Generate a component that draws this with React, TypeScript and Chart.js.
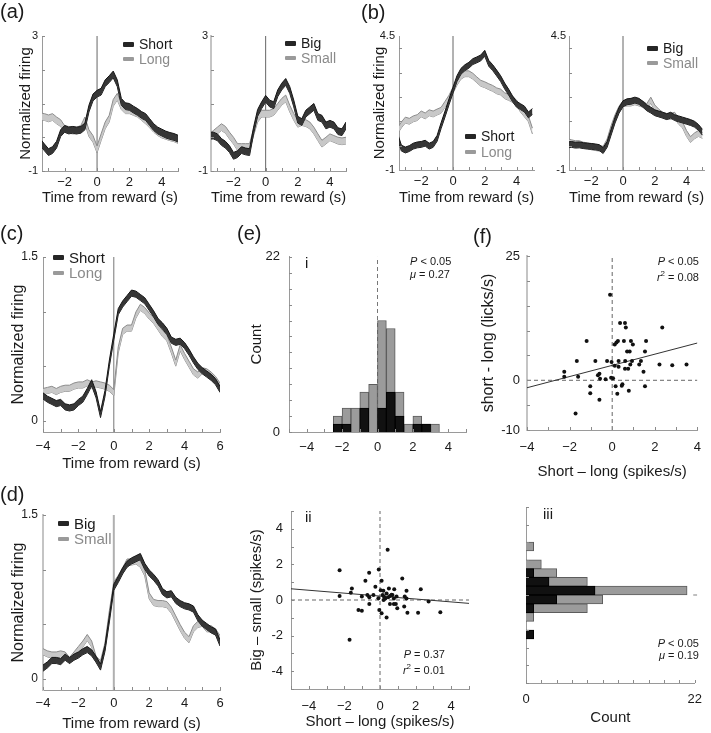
import React, { useEffect, useRef } from 'react';
import { Chart, registerables } from 'chart.js';

Chart.register(...registerables);

const FONT = '"Liberation Sans", Arial, Helvetica, sans-serif';
const MINUS = '\u2212';

// ---------------- data ----------------
const T_AB = [-3.5, -3.25, -3, -2.75, -2.5, -2.25, -2, -1.75, -1.5, -1.25, -1, -0.75, -0.5, -0.25, 0, 0.25, 0.5, 0.75, 1, 1.25, 1.5, 1.75, 2, 2.25, 2.5, 2.75, 3, 3.25, 3.5, 3.75, 4, 4.25, 4.5, 4.75, 5];
const T_CD = [-4, -3.75, -3.5, -3.25, -3, -2.75, -2.5, -2.25, -2, -1.75, -1.5, -1.25, -1, -0.75, -0.5, -0.25, 0, 0.25, 0.5, 0.75, 1, 1.25, 1.5, 1.75, 2, 2.25, 2.5, 2.75, 3, 3.25, 3.5, 3.75, 4, 4.25, 4.5, 4.75, 5, 5.25, 5.5, 5.75, 6];

const A_SHORT = [-0.15, -0.3, -0.44, -0.38, -0.22, 0.12, 0.25, 0.2, 0.22, 0.2, 0.22, 0.32, 0.85, 1.18, 1.29, 1.35, 1.6, 1.72, 1.86, 1.6, 1.05, 0.92, 0.9, 0.82, 0.75, 0.66, 0.6, 0.45, 0.3, 0.2, 0.14, 0.08, 0.04, 0.01, -0.04];
const A_LONG = [0.62, 0.6, 0.56, 0.6, 0.5, 0.42, 0.24, 0.22, 0.2, 0.2, 0.25, 0.5, 0.12, -0.05, -0.36, 0.0, 0.35, 0.55, 1.02, 1.2, 0.92, 0.8, 0.8, 0.75, 0.7, 0.6, 0.5, 0.38, 0.25, 0.15, 0.08, 0.04, 0.0, -0.03, -0.08];
const A_BIG = [0.05, 0.05, 0.0, -0.14, -0.22, -0.35, -0.55, -0.5, -0.38, -0.42, -0.44, 0.2, 0.72, 0.95, 1.14, 1.0, 0.95, 1.3, 1.5, 1.64, 1.4, 1.0, 0.52, 0.45, 0.7, 0.8, 0.9, 0.6, 0.55, 0.35, 0.4, 0.35, 0.18, 0.15, 0.35];
const A_SMALL = [0.0, 0.1, 0.2, 0.3, 0.22, 0.05, -0.1, -0.29, -0.29, -0.29, -0.29, 0.15, 0.55, 0.7, 0.7, 0.7, 0.75, 0.9, 1.05, 1.15, 0.85, 0.6, 0.4, 0.45, 0.42, 0.35, 0.2, 0.0, -0.19, -0.1, 0.0, -0.05, -0.1, -0.12, -0.1];

const B_SHORT = [0.4, -0.1, -0.18, -0.12, -0.02, 0.03, 0.05, 0.1, -0.02, 0.05, 0.3, 0.82, 1.3, 1.8, 2.28, 2.75, 3.05, 3.2, 3.3, 3.45, 3.52, 3.6, 3.79, 3.38, 3.2, 2.98, 2.75, 2.45, 2.2, 1.92, 1.7, 1.6, 1.5, 1.26, 1.4];
const B_LONG = [0.6, 0.85, 1.05, 1.0, 1.1, 1.15, 1.3, 1.22, 1.35, 1.3, 1.38, 1.45, 1.7, 1.95, 2.28, 2.6, 2.85, 2.95, 2.95, 2.85, 2.7, 2.56, 2.5, 2.42, 2.35, 2.25, 2.2, 2.05, 1.98, 1.9, 1.75, 1.5, 1.3, 1.1, 0.6];
const B_BIG = [0.03, 0.05, 0.02, 0.03, 0.0, -0.02, -0.03, -0.05, -0.08, -0.2, 0.05, 0.55, 1.05, 1.45, 1.72, 1.8, 1.82, 1.87, 1.82, 1.7, 1.55, 1.46, 1.35, 1.3, 1.25, 1.19, 1.25, 1.15, 1.1, 1.05, 1.0, 0.95, 0.88, 0.75, 0.55];
const B_SMALL = [0.16, 0.12, 0.08, 0.08, 0.02, 0.0, -0.05, -0.08, -0.1, -0.15, 0.15, 0.7, 1.15, 1.5, 1.72, 1.75, 1.75, 1.8, 1.75, 1.7, 1.6, 1.87, 1.55, 1.38, 1.25, 1.2, 1.2, 1.25, 1.0, 0.85, 0.5, 0.25, 0.4, 0.5, 0.42];

const C_SHORT = [0.23, 0.2, 0.18, 0.16, 0.17, 0.13, 0.12, 0.13, 0.17, 0.2, 0.27, 0.35, 0.24, 0.06, 0.25, 0.53, 0.77, 1.0, 1.07, 1.12, 1.17, 1.16, 1.13, 1.1, 1.04, 0.98, 0.91, 0.87, 0.82, 0.74, 0.72, 0.73, 0.69, 0.63, 0.56, 0.5, 0.46, 0.43, 0.4, 0.36, 0.29];
const C_LONG = [0.27, 0.28, 0.29, 0.27, 0.29, 0.3, 0.3, 0.32, 0.33, 0.33, 0.35, 0.33, 0.34, 0.33, 0.32, 0.3, 0.26, 0.65, 0.82, 0.85, 0.85, 0.97, 1.04, 1.01, 0.96, 0.92, 0.86, 0.8, 0.76, 0.65, 0.53, 0.67, 0.59, 0.52, 0.45, 0.42, 0.46, 0.45, 0.42, 0.38, 0.32];
const D_BIG = [0.1, 0.13, 0.17, 0.17, 0.16, 0.2, 0.17, 0.2, 0.22, 0.25, 0.27, 0.24, 0.18, 0.11, 0.28, 0.55, 0.84, 0.91, 0.99, 1.05, 1.08, 1.1, 1.12, 1.03, 0.97, 0.93, 0.88, 0.8, 0.77, 0.78, 0.72, 0.69, 0.67, 0.66, 0.64, 0.56, 0.51, 0.48, 0.45, 0.43, 0.33];
const D_SMALL = [0.25, 0.23, 0.22, 0.22, 0.23, 0.22, 0.17, 0.22, 0.27, 0.32, 0.38, 0.32, 0.18, 0.14, 0.3, 0.6, 0.86, 0.92, 0.99, 1.07, 1.07, 1.08, 1.05, 0.97, 0.76, 0.7, 0.69, 0.69, 0.68, 0.63, 0.55, 0.47, 0.4, 0.36, 0.46, 0.5, 0.51, 0.46, 0.46, 0.43, 0.37];

const SEM_A = 0.1;
const SEM_B = 0.12;
const SEM_C = 0.028;
const SEM_D = 0.028;

// histogram (e) i
const E_BINS = [-2.25, -1.75, -1.25, -0.75, -0.25, 0.25, 0.75, 1.25, 1.75, 2.25, 2.75, 3.25];
const E_ALL = [2, 3, 3, 5, 6, 14, 13, 5, 1, 2, 1, 1];
const E_SIG = [1, 1, 0, 3, 0, 3, 5, 2, 0, 1, 1, 0];

// histogram (e) iii (horizontal)
const H_BINS = [2.75, 2.25, 1.75, 1.25, 0.75, 0.25, -0.25, -0.75, -1.25, -1.75, -2.25];
const H_ALL = [1, 0, 2, 4, 8, 21, 10, 8, 1, 0, 1];
const H_SIG = [0, 0, 0, 1, 3, 9, 4, 1, 0, 0, 1];
const H_MARK = 0.0;

// scatter (f)
const F_X = [-0.1, 0.37, 0.6, 0.64, 2.35, -1.2, 0.12, 0.2, 0.27, 0.55, 0.88, 0.97, 1.59, 0.7, 0.82, 1.54, -1.66, -0.79, -0.24, -0.03, 0.3, 0.61, 0.93, 1.35, 0.12, 0.3, 0.6, 0.75, 0.85, 1.27, 2.22, 2.82, 3.49, 1.47, -2.25, -2.25, -1.6, -0.67, -0.6, -0.57, -0.31, -0.05, 0.04, -1.03, -1.03, -0.6, 0.16, 0.45, 0.48, 0.24, 0.78, 1.54, -1.72];
const F_Y = [17.2, 11.5, 11.5, 10.6, 10.6, 7.9, 7.2, 7.6, 7.9, 7.9, 7.9, 7.2, 7.9, 5.8, 5.8, 5.8, 3.9, 3.9, 3.9, 3.7, 3.9, 3.9, 3.9, 3.9, 2.9, 2.7, 2.3, 2.3, 3.2, 3.2, 3.2, 3.0, 3.2, 1.7, 1.7, 0.7, 0.7, 1.0, 1.3, 0.3, 0.2, 0.5, 0.4, -1.2, -2.6, -3.9, -1.2, -1.1, -0.8, -2.7, -2.1, -1.2, -6.7];
const F_FIT = { slope: 1.125, intercept: 3.0 };

// scatter (e) ii
const S_X = [0.43, -2.27, -0.07, -0.61, 1.25, -0.82, 0.09, -0.26, -1.58, 0.5, 0.8, 2.29, 0.04, 0.19, 1.49, -1.64, -0.71, -0.37, -2.27, -1.02, -0.6, -0.09, 0.15, 0.22, 0.3, 0.37, 0.46, 0.56, 0.7, 0.78, 0.93, 1.39, 1.49, 1.36, -0.04, 0.09, 0.37, -1.21, -1.02, -0.6, 0.56, 0.78, 0.89, 0.97, 1.54, 2.14, 2.73, 3.39, -1.71, 0.2, 0.65];
const S_Y = [2.83, 1.67, 1.71, 1.53, 1.21, 1.08, 1.08, 0.74, 0.65, 0.65, 0.61, 0.6, 0.55, 0.52, 0.52, 0.41, 0.28, 0.28, 0.22, 0.19, 0.15, 0.1, 0.28, 0.19, 0.09, 0.37, 0.15, 0.22, 0.28, 0.09, 0.19, 0.19, 0.09, -0.37, -0.56, -0.74, -0.99, -0.56, -0.6, -0.22, -0.22, -0.22, -0.22, -0.47, -0.71, -0.71, -0.09, -0.69, -2.23, 0.0, 0.3];
const S_FIT = { slope: -0.082, intercept: 0.22 };

// tick values
const AB_X_LABELS = [-2, 0, 2, 4];
const AB_X_MINOR = [-3, -2, -1, 0, 1, 2, 3, 4, 5];
const A_Y_LABELS = [-1, 3];
const A_Y_MINOR = [-1, 0, 1, 2, 3];
const B_Y_LABELS = [-1, 4.5];
const B_Y_MINOR = [0, 1, 2, 3, 4];
const CD_X_LABELS = [-4, -2, 0, 2, 4, 6];
const CD_X_MINOR = [-4, -3, -2, -1, 0, 1, 2, 3, 4, 5, 6];
const CD_Y_LABELS = [0, 1.5];
const CD_Y_MINOR = [0, 0.5, 1, 1.5];
const E_X_LABELS = [-4, -2, 0, 2, 4];
const E_X_MINOR = [-5, -4, -3, -2, -1, 0, 1, 2, 3, 4, 5];
const E_Y_LABELS = [0, 22];
const E_Y_MINOR = [0, 2, 4, 6, 8, 10, 12, 14, 16, 18, 20, 22];
const F_X_LABELS = [-4, -2, 0, 2, 4];
const F_X_MINOR = [-4, -3, -2, -1, 0, 1, 2, 3, 4];
const F_Y_LABELS = [-10, 0, 25];
const F_Y_MINOR = [-10, -5, 0, 5, 10, 15, 20, 25];
const S_X_LABELS = [-4, -2, 0, 2, 4];
const S_MINOR = [-5, -4, -3, -2, -1, 0, 1, 2, 3, 4, 5];
const S_Y_LABELS = [-4, -2, 0, 2, 4];
const H_X_LABELS = [0, 22];
const H_X_MINOR = [0, 2, 4, 6, 8, 10, 12, 14, 16, 18, 20, 22];

// ---------------- helpers ----------------
const fmtM = (v: number) => (v < 0 ? MINUS + String(Math.abs(v)) : String(v));
const fmtH = (v: number) => String(v);

function band(T: number[], c: number[], sem: number, dark: boolean) {
  const edge = dark ? '#141414' : '#8c8c8c';
  const fillC = dark ? '#363636' : '#c8c8c8';
  const common: any = { type: 'line', pointRadius: 0, borderWidth: 1, borderColor: edge, tension: 0 };
  return [
    { ...common, data: T.map((t, i) => ({ x: t, y: c[i] + sem })), backgroundColor: fillC, fill: '+1' },
    { ...common, data: T.map((t, i) => ({ x: t, y: c[i] - sem })), backgroundColor: fillC, fill: false },
  ];
}

function seg(x0: number, y0: number, x1: number, y1: number, color: string, width: number, dash?: number[], extra?: any) {
  return {
    type: 'line', data: [{ x: x0, y: y0 }, { x: x1, y: y1 }], borderColor: color, borderWidth: width,
    borderDash: dash || [], pointRadius: 0, fill: false, showLine: true, tension: 0, ...(extra || {}),
  };
}

function fitLine(fit: { slope: number; intercept: number }, x0: number, x1: number) {
  return seg(x0, fit.intercept + fit.slope * x0, x1, fit.intercept + fit.slope * x1, '#333', 1);
}

function buildAxis(a: any, horizontal: boolean, fit: number) {
  return {
    type: 'linear', min: a.min, max: a.max, offset: false,
    grid: { display: false, drawTicks: false },
    border: { display: true, color: a.borderColor || '#9a9a9a', width: a.borderWidth || 1 },
    afterBuildTicks: (s: any) => { s.ticks = (a.labels || []).map((v: number) => ({ value: v })); },
    afterFit: (s: any) => { if (horizontal) s.height = fit; else s.width = fit; },
    ticks: {
      display: (a.labels || []).length > 0, autoSkip: false, maxRotation: 0, minRotation: 0,
      padding: a.pad, color: '#1a1a1a', font: { family: FONT, size: a.size },
      callback: (v: any) => (a.fmt || fmtH)(Number(v)),
    },
    title: a.title
      ? { display: true, text: a.title, color: '#1a1a1a', font: { family: FONT, size: a.titleSize || 15 }, padding: a.titlePad || 0 }
      : { display: false },
  };
}

function tickPlugin(xMinor: number[], yMinor: number[]) {
  return {
    id: 'inwardTicks',
    afterDraw(chart: any) {
      const { ctx, chartArea, scales } = chart;
      ctx.save();
      ctx.strokeStyle = '#8a8a8a';
      ctx.lineWidth = 1;
      ctx.beginPath();
      xMinor.forEach((v) => {
        const p = Math.round(scales.x.getPixelForValue(v)) + 0.5;
        ctx.moveTo(p, chartArea.bottom);
        ctx.lineTo(p, chartArea.bottom - 3);
      });
      yMinor.forEach((v) => {
        const p = Math.round(scales.y.getPixelForValue(v)) + 0.5;
        ctx.moveTo(chartArea.left, p);
        ctx.lineTo(chartArea.left + 3, p);
      });
      ctx.stroke();
      ctx.restore();
    },
  };
}

function buildConfig(p: any) {
  const { rect, plot } = p;
  const xFit = rect.y + rect.h - plot.b;
  const yFit = plot.l - rect.x;
  return {
    type: p.type,
    data: { datasets: p.datasets() },
    options: {
      responsive: false, animation: false, events: [],
      indexAxis: p.indexAxis || 'x',
      layout: { padding: { top: plot.t - rect.y, right: rect.x + rect.w - plot.r, left: 0, bottom: 0 } },
      plugins: { legend: { display: false }, tooltip: { enabled: false } },
      scales: { x: buildAxis(p.x, true, xFit), y: buildAxis(p.y, false, yFit) },
    },
    plugins: [tickPlugin(p.x.minor, p.y.minor)],
  };
}

function Panel({ spec }: { spec: any }) {
  const ref = useRef<HTMLCanvasElement>(null);
  useEffect(() => {
    let chart: any = null;
    try {
      if (ref.current) chart = new Chart(ref.current, buildConfig(spec) as any);
    } catch (e) {
      console.error(e);
    }
    return () => { if (chart) chart.destroy(); };
  }, []);
  const { rect } = spec;
  return (
    <canvas ref={ref} width={rect.w} height={rect.h}
      style={{ position: 'absolute', left: rect.x, top: rect.y, width: rect.w, height: rect.h }} />
  );
}

function Txt({ x, cy, size, children, align = 'left', color = '#1a1a1a', k = 0.5 }: any) {
  const tr = align === 'right' ? 'translateX(-100%)' : align === 'center' ? 'translateX(-50%)' : undefined;
  return (
    <div style={{ position: 'absolute', left: x, top: cy - k * size, fontSize: size, lineHeight: `${size}px`,
      fontFamily: FONT, color, whiteSpace: 'nowrap', transform: tr }}>{children}</div>
  );
}

function Leg({ x, cy, label, dark, size }: any) {
  return (
    <>
      <div style={{ position: 'absolute', left: x, top: cy - (dark ? 2.5 : 2), width: 11, height: dark ? 5 : 4,
        background: dark ? '#262626' : '#9a9a9a', borderRadius: 1 }} />
      <Txt x={x + 16} cy={cy} size={size} color={dark ? '#1a1a1a' : '#8a8a8a'}>{label}</Txt>
    </>
  );
}

// ---------------- panel specs ----------------
const xTime = { labels: AB_X_LABELS, minor: AB_X_MINOR, fmt: fmtM, size: 13, pad: 4 };

const PANELS: any[] = [
  {
    rect: { x: 0, y: 20, w: 192, h: 190 }, plot: { l: 42, t: 36, r: 178, b: 171 }, type: 'line',
    datasets: () => [...band(T_AB, A_SHORT, SEM_A, true), ...band(T_AB, A_LONG, SEM_A, false), seg(0, -1, 0, 3, '#666', 1)],
    x: { ...xTime, min: -3.4, max: 5, title: 'Time from reward (s)', titleSize: 15, titlePad: { top: 0, bottom: 3 } },
    y: { min: -1, max: 3, labels: A_Y_LABELS, minor: A_Y_MINOR, fmt: fmtH, size: 11, pad: 4,
      title: 'Normalized firing', titleSize: 15, titlePad: { top: 17, bottom: 0 } },
  },
  {
    rect: { x: 192, y: 20, w: 166, h: 190 }, plot: { l: 211, t: 36, r: 346, b: 171 }, type: 'line',
    datasets: () => [...band(T_AB, A_BIG, SEM_A, true), ...band(T_AB, A_SMALL, SEM_A, false), seg(0, -1, 0, 3, '#666', 1)],
    x: { ...xTime, min: -3.4, max: 5, title: 'Time from reward (s)', titleSize: 15, titlePad: { top: 0, bottom: 3 } },
    y: { min: -1, max: 3, labels: A_Y_LABELS, minor: A_Y_MINOR, fmt: fmtH, size: 11, pad: 3, borderColor: '#c4c4c4', borderWidth: 2 },
  },
  {
    rect: { x: 350, y: 20, w: 196, h: 190 }, plot: { l: 399, t: 36, r: 534, b: 170 }, type: 'line',
    datasets: () => [...band(T_AB, B_SHORT, SEM_B, true), ...band(T_AB, B_LONG, SEM_B, false), seg(0, -1, 0, 4.5, '#666', 1)],
    x: { ...xTime, min: -3.4, max: 5.1, title: 'Time from reward (s)', titleSize: 15, titlePad: { top: 0, bottom: 3.5 } },
    y: { min: -1, max: 4.5, labels: B_Y_LABELS, minor: B_Y_MINOR, fmt: fmtH, size: 11, pad: 4,
      title: 'Normalized firing', titleSize: 15, titlePad: { top: 21, bottom: 0 } },
  },
  {
    rect: { x: 546, y: 20, w: 165, h: 190 }, plot: { l: 569, t: 36, r: 704, b: 170 }, type: 'line',
    datasets: () => [...band(T_AB, B_BIG, SEM_B, true), ...band(T_AB, B_SMALL, SEM_B, false), seg(0, -1, 0, 4.5, '#666', 1)],
    x: { ...xTime, min: -3.4, max: 5.1, title: 'Time from reward (s)', titleSize: 15, titlePad: { top: 0, bottom: 3.5 } },
    y: { min: -1, max: 4.5, labels: B_Y_LABELS, minor: B_Y_MINOR, fmt: fmtH, size: 11, pad: 3 },
  },
  {
    rect: { x: 0, y: 240, w: 232, h: 236 }, plot: { l: 43, t: 257, r: 220, b: 432 }, type: 'line',
    datasets: () => [...band(T_CD, C_SHORT, SEM_C, true), ...band(T_CD, C_LONG, SEM_C, false), seg(0, -0.1, 0, 1.5, '#777', 1)],
    x: { min: -4, max: 6, labels: CD_X_LABELS, minor: CD_X_MINOR, fmt: fmtM, size: 13, pad: 7,
      title: 'Time from reward (s)', titleSize: 15, titlePad: { top: 0, bottom: 3.5 } },
    y: { min: -0.1, max: 1.5, labels: CD_Y_LABELS, minor: CD_Y_MINOR, fmt: fmtH, size: 12, pad: 5,
      title: 'Normalized firing', titleSize: 16, titlePad: { top: 9.4, bottom: 0 } },
  },
  {
    rect: { x: 0, y: 498, w: 232, h: 235 }, plot: { l: 43, t: 515, r: 220, b: 690 }, type: 'line',
    datasets: () => [...band(T_CD, D_BIG, SEM_D, true), ...band(T_CD, D_SMALL, SEM_D, false), seg(0, -0.1, 0, 1.5, '#b0b0b0', 2)],
    x: { min: -4, max: 6, labels: CD_X_LABELS, minor: CD_X_MINOR, fmt: fmtM, size: 13, pad: 6,
      title: 'Time from reward (s)', titleSize: 15, titlePad: { top: 0, bottom: 0.5 } },
    y: { min: -0.1, max: 1.5, labels: CD_Y_LABELS, minor: CD_Y_MINOR, fmt: fmtH, size: 12, pad: 5,
      title: 'Normalized firing', titleSize: 16, titlePad: { top: 9, bottom: 0 }, borderColor: '#c4c4c4', borderWidth: 2 },
  },
  {
    rect: { x: 240, y: 240, w: 238, h: 222 }, plot: { l: 289, t: 255, r: 466, b: 432 }, type: 'bar',
    datasets: () => [
      { type: 'bar', data: E_BINS.map((b, i) => ({ x: b, y: E_SIG[i] })), backgroundColor: '#111', borderColor: '#000',
        borderWidth: 1, grouped: false, barPercentage: 1, categoryPercentage: 1, order: 1 },
      { type: 'bar', data: E_BINS.map((b, i) => ({ x: b, y: E_ALL[i] })), backgroundColor: '#9b9b9b', borderColor: '#5c5c5c',
        borderWidth: 1, grouped: false, barPercentage: 1, categoryPercentage: 1, order: 2 },
      { ...seg(0, 0, 0, 22, '#777', 1, [4, 3]), order: 3 },
    ],
    x: { min: -5, max: 5, labels: E_X_LABELS, minor: E_X_MINOR, fmt: fmtM, size: 13, pad: 8 },
    y: { min: 0, max: 22, labels: E_Y_LABELS, minor: E_Y_MINOR, fmt: fmtH, size: 13, pad: 9,
      title: 'Count', titleSize: 15, titlePad: { top: 8, bottom: 0 } },
  },
  {
    rect: { x: 470, y: 240, w: 241, h: 243 }, plot: { l: 527, t: 256, r: 706, b: 430 }, type: 'scatter',
    datasets: () => [
      { type: 'scatter', data: F_X.map((x, i) => ({ x, y: F_Y[i] })), pointRadius: 2, backgroundColor: '#111', borderWidth: 0, showLine: false },
      fitLine(F_FIT, -4, 4),
      seg(0, -10, 0, 25, '#666', 1, [4, 3]),
      seg(-4, 0, 4, 0, '#666', 1, [4, 3]),
    ],
    x: { min: -4, max: 4, labels: F_X_LABELS, minor: F_X_MINOR, fmt: fmtM, size: 13, pad: 10,
      title: 'Short \u2013 long (spikes/s)', titleSize: 15, titlePad: { top: 0, bottom: 2.5 } },
    y: { min: -10, max: 25, labels: F_Y_LABELS, minor: F_Y_MINOR, fmt: fmtH, size: 13, pad: 7,
      title: 'short - long (licks/s)', titleSize: 16, titlePad: { top: 9.4, bottom: 0 }, borderColor: '#c4c4c4', borderWidth: 2 },
  },
  {
    rect: { x: 240, y: 495, w: 240, h: 238 }, plot: { l: 291, t: 511, r: 469, b: 689 }, type: 'scatter',
    datasets: () => [
      { type: 'scatter', data: S_X.map((x, i) => ({ x, y: S_Y[i] })), pointRadius: 2, backgroundColor: '#111', borderWidth: 0, showLine: false },
      fitLine(S_FIT, -5, 5),
      seg(0, -5, 0, 5, '#666', 1, [4, 3]),
      seg(-5, 0, 5, 0, '#666', 1, [4, 3]),
    ],
    x: { min: -5, max: 5, labels: S_X_LABELS, minor: S_MINOR, fmt: fmtM, size: 13, pad: 10,
      title: 'Short \u2013 long (spikes/s)', titleSize: 15, titlePad: { top: 0, bottom: 2 } },
    y: { min: -5, max: 5, labels: S_Y_LABELS, minor: S_MINOR, fmt: fmtH, size: 13, pad: 8,
      title: 'Big \u2013 small (spikes/s)', titleSize: 15, titlePad: { top: 7.5, bottom: 0 } },
  },
  {
    rect: { x: 478, y: 490, w: 233, h: 243 }, plot: { l: 526, t: 507, r: 703, b: 683 }, type: 'bar', indexAxis: 'y',
    datasets: () => [
      { type: 'bar', data: H_BINS.map((b, i) => ({ y: b, x: H_SIG[i] })), backgroundColor: '#111', borderColor: '#000',
        borderWidth: 1, grouped: false, barPercentage: 1, categoryPercentage: 1, order: 1 },
      { type: 'bar', data: H_BINS.map((b, i) => ({ y: b, x: H_ALL[i] })), backgroundColor: '#9b9b9b', borderColor: '#5c5c5c',
        borderWidth: 1, grouped: false, barPercentage: 1, categoryPercentage: 1, order: 2 },
      { ...seg(21.8, H_MARK, 22.3, H_MARK, '#aaa', 1.5), clip: false, order: 3 },
    ],
    x: { min: 0, max: 22, labels: H_X_LABELS, minor: H_X_MINOR, fmt: fmtH, size: 13, pad: 9,
      title: 'Count', titleSize: 15, titlePad: { top: 0, bottom: 6.5 } },
    y: { min: -5, max: 5, labels: [], minor: S_MINOR, size: 13, pad: 4 },
  },
];

export default function App() {
  return (
    <div style={{ position: 'absolute', left: 0, top: 0, width: 711, height: 733, background: '#fff', overflow: 'hidden', fontFamily: FONT }}>
      {PANELS.map((p, i) => <Panel key={i} spec={p} />)}

      {/* panel letters */}
      <Txt x={0} cy={13} size={20} k={0.59}>(a)</Txt>
      <Txt x={361} cy={14} size={20} k={0.59}>(b)</Txt>
      <Txt x={0} cy={235} size={20} k={0.59}>(c)</Txt>
      <Txt x={0} cy={496} size={20} k={0.59}>(d)</Txt>
      <Txt x={237} cy={235} size={20} k={0.59}>(e)</Txt>
      <Txt x={473} cy={238} size={20} k={0.59}>(f)</Txt>

      {/* legends */}
      <Leg x={123} cy={44} label="Short" dark size={14} />
      <Leg x={123} cy={59} label="Long" size={14} />
      <Leg x={285} cy={43} label="Big" dark size={14} />
      <Leg x={285} cy={58} label="Small" size={14} />
      <Leg x={465} cy={136} label="Short" dark size={14} />
      <Leg x={465} cy={151.5} label="Long" size={14} />
      <Leg x={647} cy={48} label="Big" dark size={14} />
      <Leg x={647} cy={62.5} label="Small" size={14} />
      <Leg x={53} cy={257.5} label="Short" dark size={15} />
      <Leg x={53} cy={272.5} label="Long" size={15} />
      <Leg x={58} cy={523} label="Big" dark size={15} />
      <Leg x={58} cy={538.5} label="Small" size={15} />

      {/* annotations */}
      <Txt x={305} cy={262} size={15}>i</Txt>
      <Txt x={410} cy={261} size={11}><i>P</i> &lt; 0.05</Txt>
      <Txt x={410} cy={274} size={11}><i>μ</i> = 0.27</Txt>

      <Txt x={699} cy={261} size={11} align="right"><i>P</i> &lt; 0.05</Txt>
      <Txt x={699} cy={273} size={11} align="right"><i>r</i><sup style={{ fontSize: 8 }}>2</sup> = 0.08</Txt>

      <Txt x={305} cy={516.5} size={15}>ii</Txt>
      <Txt x={445} cy={654} size={11} align="right"><i>P</i> = 0.37</Txt>
      <Txt x={445} cy={666} size={11} align="right"><i>r</i><sup style={{ fontSize: 8 }}>2</sup> = 0.01</Txt>

      <Txt x={543} cy={513} size={15}>iii</Txt>
      <Txt x={699} cy={643} size={11} align="right"><i>P</i> &lt; 0.05</Txt>
      <Txt x={699} cy={655} size={11} align="right"><i>μ</i> = 0.19</Txt>
    </div>
  );
}
